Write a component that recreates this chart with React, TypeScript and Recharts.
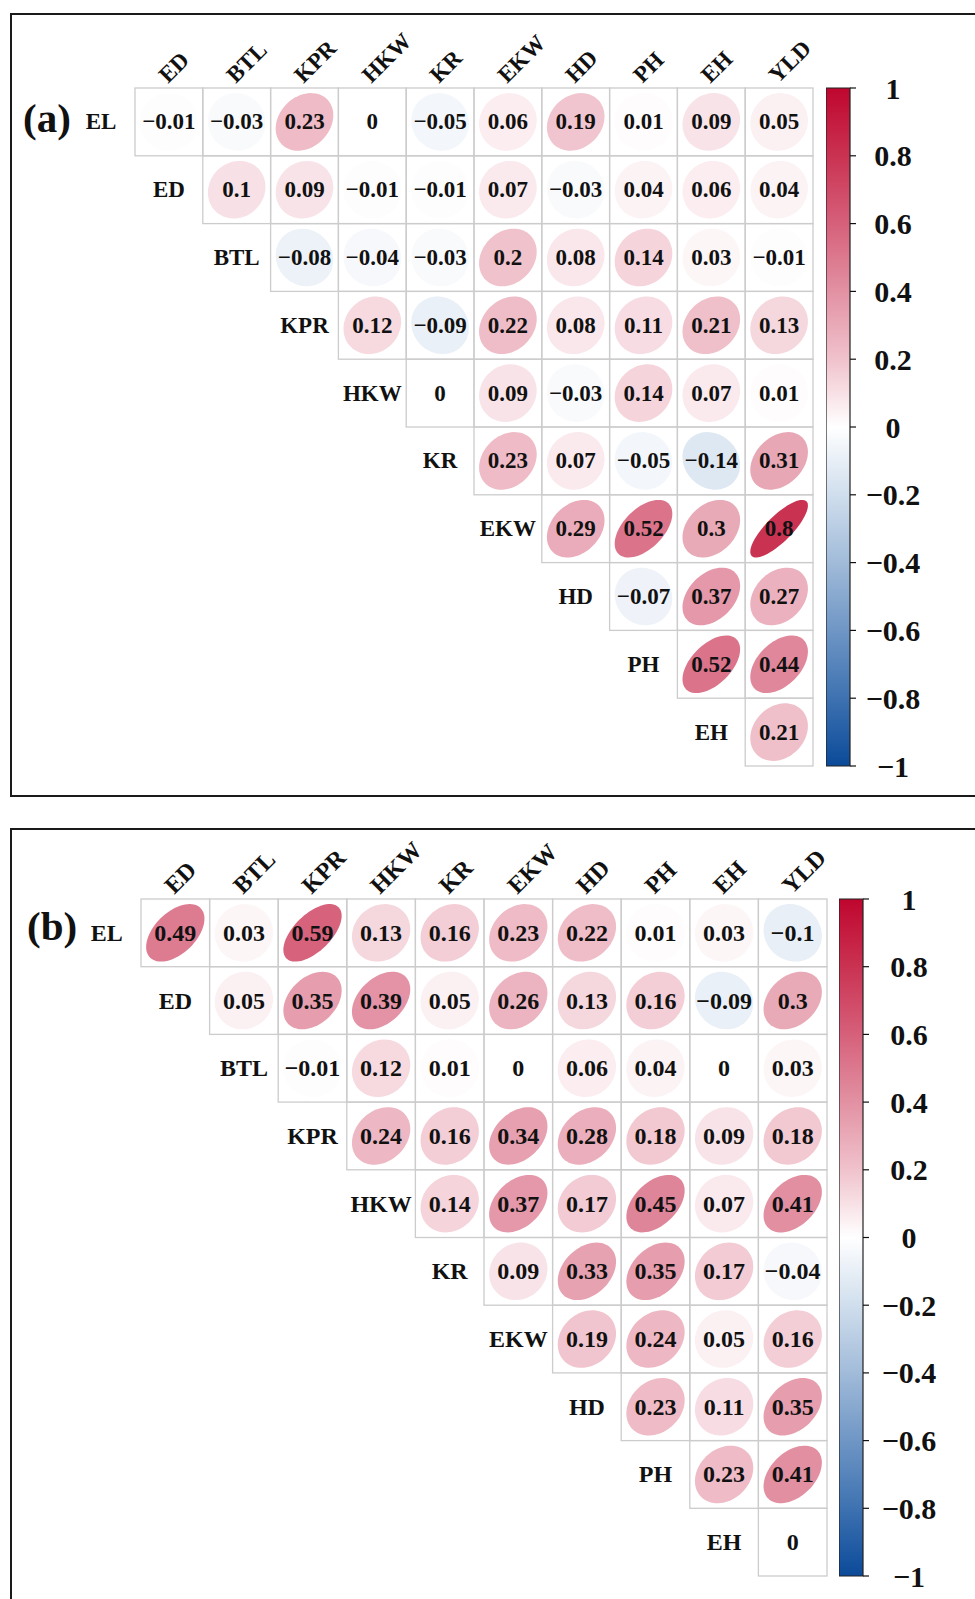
import { ScatterChart, Scatter, XAxis, YAxis, BarChart, Bar } from 'recharts';

// trait names
const rowTraits = ['EL', 'ED', 'BTL', 'KPR', 'HKW', 'KR', 'EKW', 'HD', 'PH', 'EH'];
const colTraits = ['ED', 'BTL', 'KPR', 'HKW', 'KR', 'EKW', 'HD', 'PH', 'EH', 'YLD'];
const colorTicks = [-1, -0.8, -0.6, -0.4, -0.2, 0, 0.2, 0.4, 0.6, 0.8, 1];

// panel (a): upper triangle, row i starts at column i
const aEL = [-0.01, -0.03, 0.23, 0, -0.05, 0.06, 0.19, 0.01, 0.09, 0.05];
const aED = [0.1, 0.09, -0.01, -0.01, 0.07, -0.03, 0.04, 0.06, 0.04];
const aBTL = [-0.08, -0.04, -0.03, 0.2, 0.08, 0.14, 0.03, -0.01];
const aKPR = [0.12, -0.09, 0.22, 0.08, 0.11, 0.21, 0.13];
const aHKW = [0, 0.09, -0.03, 0.14, 0.07, 0.01];
const aKR = [0.23, 0.07, -0.05, -0.14, 0.31];
const aEKW = [0.29, 0.52, 0.3, 0.8];
const aHD = [-0.07, 0.37, 0.27];
const aPH = [0.52, 0.44];
const aEH = [0.21];

// panel (b)
const bEL = [0.49, 0.03, 0.59, 0.13, 0.16, 0.23, 0.22, 0.01, 0.03, -0.1];
const bED = [0.05, 0.35, 0.39, 0.05, 0.26, 0.13, 0.16, -0.09, 0.3];
const bBTL = [-0.01, 0.12, 0.01, 0, 0.06, 0.04, 0, 0.03];
const bKPR = [0.24, 0.16, 0.34, 0.28, 0.18, 0.09, 0.18];
const bHKW = [0.14, 0.37, 0.17, 0.45, 0.07, 0.41];
const bKR = [0.09, 0.33, 0.35, 0.17, -0.04];
const bEKW = [0.19, 0.24, 0.05, 0.16];
const bHD = [0.23, 0.11, 0.35];
const bPH = [0.23, 0.41];
const bEH = [0];

const rowsA = [aEL, aED, aBTL, aKPR, aHKW, aKR, aEKW, aHD, aPH, aEH];
const rowsB = [bEL, bED, bBTL, bKPR, bHKW, bKR, bEKW, bHD, bPH, bEH];

const FONT = '"Liberation Serif", "Times New Roman", Times, serif';

// blue - white - red palette (value, colour)
const palette: [number, string][] = [
  [-1, '#0B4A99'],
  [-0.8, '#3E72B1'],
  [-0.6, '#6F96C5'],
  [-0.4, '#A1BBD9'],
  [-0.2, '#D0DEED'],
  [0, '#FFFFFF'],
  [0.2, '#F0C2CC'],
  [0.4, '#E291A3'],
  [0.6, '#D6607A'],
  [0.8, '#CA3252'],
  [1, '#BF062E'],
];

const hexToRgb = (h: string) => [1, 3, 5].map((i) => parseInt(h.slice(i, i + 2), 16));

function corrColor(v: number) {
  for (let i = 0; i < palette.length - 1; i++) {
    const [v0, c0] = palette[i];
    const [v1, c1] = palette[i + 1];
    if (v >= v0 && v <= v1) {
      const t = (v - v0) / (v1 - v0);
      const a = hexToRgb(c0);
      const b = hexToRgb(c1);
      const m = a.map((x, k) => Math.round(x + (b[k] - x) * t));
      return `rgb(${m[0]},${m[1]},${m[2]})`;
    }
  }
  return '#ffffff';
}

const formatCorr = (v: number) => (v < 0 ? '\u2212' + String(Math.abs(v)) : String(v));

// corrplot style ellipse outline
function ellipsePoints(cx: number, cy: number, r: number, w: number, h: number) {
  const a = Math.acos(r);
  const pts: string[] = [];
  for (let k = 0; k < 72; k++) {
    const t = (k / 72) * 2 * Math.PI;
    const x = (0.85 * Math.cos(t + a / 2)) / 2;
    const y = (0.85 * Math.cos(t - a / 2)) / 2;
    pts.push(`${(cx + x * w).toFixed(2)},${(cy - y * h).toFixed(2)}`);
  }
  return pts.join(' ');
}

interface PanelConfig {
  tag: string;
  rows: number[][];
  top: number;
  gridLeft: number;
  gridTop: number;
  gridRight: number;
  gridBottom: number;
  barLeft: number;
  tickCenter: number;
  valueSize: number;
  labelSize: number;
  tagX: number;
  tagY: number;
  gradId: string;
}

function CorrPanel(cfg: PanelConfig) {
  const chartW = 975;
  const chartH = 800;
  const cellW = (cfg.gridRight - cfg.gridLeft) / 10;
  const cellH = (cfg.gridBottom - cfg.gridTop) / 10;

  const cells: { x: number; y: number; r: number }[] = [];
  cfg.rows.forEach((row, i) => {
    row.forEach((v, k) => cells.push({ x: i + k, y: i, r: v }));
  });
  const rowLabelData = rowTraits.map((name, i) => ({ x: i, y: i, name }));
  const colLabelData = colTraits.map((name, j) => ({ x: j, y: -0.5, name }));

  const CellMark = (props: any) => {
    const { cx, cy, payload } = props;
    return (
      <g>
        <rect
          x={cx - cellW / 2}
          y={cy - cellH / 2}
          width={cellW}
          height={cellH}
          fill="none"
          stroke="#CCCCCC"
          strokeWidth={1.3}
        />
        <polygon points={ellipsePoints(cx, cy, payload.r, cellW, cellH)} fill={corrColor(payload.r)} stroke="none" />
        <text
          x={cx}
          y={cy}
          textAnchor="middle"
          dominantBaseline="central"
          fontFamily={FONT}
          fontWeight="bold"
          fontSize={cfg.valueSize}
          fill="#111"
        >
          {formatCorr(payload.r)}
        </text>
      </g>
    );
  };

  const RowLabel = (props: any) => (
    <text
      x={props.cx - cellW}
      y={props.cy}
      textAnchor="middle"
      dominantBaseline="central"
      fontFamily={FONT}
      fontWeight="bold"
      fontSize={cfg.labelSize}
      fill="#111"
    >
      {props.payload.name}
    </text>
  );

  const ColLabel = (props: any) => {
    const ax = props.cx - 1;
    const ay = props.cy - 4;
    return (
      <text
        x={ax}
        y={ay}
        transform={`rotate(-45, ${ax}, ${ay})`}
        textAnchor="start"
        fontFamily={FONT}
        fontWeight="bold"
        fontSize={cfg.labelSize}
        fill="#111"
      >
        {props.payload.name}
      </text>
    );
  };

  const barH = cfg.gridBottom - cfg.gridTop;

  const ColorTick = (props: any) => (
    <text
      x={props.x}
      y={props.y}
      textAnchor="middle"
      dominantBaseline="central"
      fontFamily={FONT}
      fontWeight="bold"
      fontSize={30}
      fill="#111"
    >
      {formatCorr(props.payload.value)}
    </text>
  );

  return (
    <>
      <div
        style={{
          position: 'absolute',
          left: cfg.tagX,
          top: cfg.tagY,
          fontFamily: FONT,
          fontWeight: 'bold',
          fontSize: 41,
          lineHeight: 1,
          color: '#111',
        }}
      >
        {cfg.tag}
      </div>
      <div style={{ position: 'absolute', left: 0, top: cfg.top }}>
        <ScatterChart
          width={chartW}
          height={chartH}
          margin={{
            top: cfg.gridTop - cfg.top,
            left: cfg.gridLeft,
            right: chartW - cfg.gridRight,
            bottom: chartH - (cfg.gridBottom - cfg.top),
          }}
        >
          <XAxis type="number" dataKey="x" domain={[-0.5, 9.5]} hide />
          <YAxis type="number" dataKey="y" domain={[-0.5, 9.5]} reversed hide />
          <Scatter data={cells} shape={CellMark} isAnimationActive={false} />
          <Scatter data={rowLabelData} shape={RowLabel} isAnimationActive={false} />
          <Scatter data={colLabelData} shape={ColLabel} isAnimationActive={false} />
        </ScatterChart>
      </div>
      <div style={{ position: 'absolute', left: cfg.barLeft, top: cfg.gridTop - 20 }}>
        <BarChart
          width={24 + 100}
          height={barH + 40}
          data={[{ name: 'scale', range: [-1, 1] }]}
          margin={{ top: 20, bottom: 20, left: 0, right: 0 }}
          barCategoryGap={0}
        >
          <defs>
            <linearGradient id={cfg.gradId} x1="0" y1="0" x2="0" y2="1">
              {[...palette].reverse().map(([v, c]) => (
                <stop key={v} offset={`${((1 - v) / 2) * 100}%`} stopColor={c} />
              ))}
            </linearGradient>
          </defs>
          <XAxis dataKey="name" type="category" hide />
          <YAxis
            orientation="right"
            type="number"
            domain={[-1, 1]}
            ticks={colorTicks}
            interval={0}
            width={100}
            axisLine={false}
            tickSize={6}
            tickMargin={cfg.tickCenter - cfg.barLeft - 24 - 6}
            tickLine={{ stroke: '#111', strokeWidth: 1.2 }}
            tick={ColorTick}
          />
          <Bar dataKey="range" fill={`url(#${cfg.gradId})`} stroke="#222" strokeWidth={1.2} isAnimationActive={false} />
        </BarChart>
      </div>
    </>
  );
}

export default function App() {
  return (
    <div
      style={{
        position: 'relative',
        width: 975,
        height: 1599,
        overflow: 'hidden',
        background: '#fff',
      }}
    >
      <style>{'body{margin:0;}'}</style>
      {/* panel frames */}
      <div
        style={{
          position: 'absolute',
          left: 10,
          top: 13,
          width: 975,
          height: 780,
          border: '2px solid #1a1a1a',
        }}
      />
      <div
        style={{
          position: 'absolute',
          left: 10,
          top: 828,
          width: 975,
          height: 800,
          border: '2px solid #1a1a1a',
        }}
      />
      <CorrPanel
        tag="(a)"
        rows={rowsA}
        top={0}
        gridLeft={135}
        gridTop={88}
        gridRight={813}
        gridBottom={766}
        barLeft={826}
        tickCenter={893}
        valueSize={23}
        labelSize={23}
        tagX={23}
        tagY={98}
        gradId="cbA"
      />
      <CorrPanel
        tag="(b)"
        rows={rowsB}
        top={811}
        gridLeft={141}
        gridTop={899}
        gridRight={827}
        gridBottom={1576}
        barLeft={839}
        tickCenter={909}
        valueSize={24}
        labelSize={24}
        tagX={27}
        tagY={906}
        gradId="cbB"
      />
    </div>
  );
}
